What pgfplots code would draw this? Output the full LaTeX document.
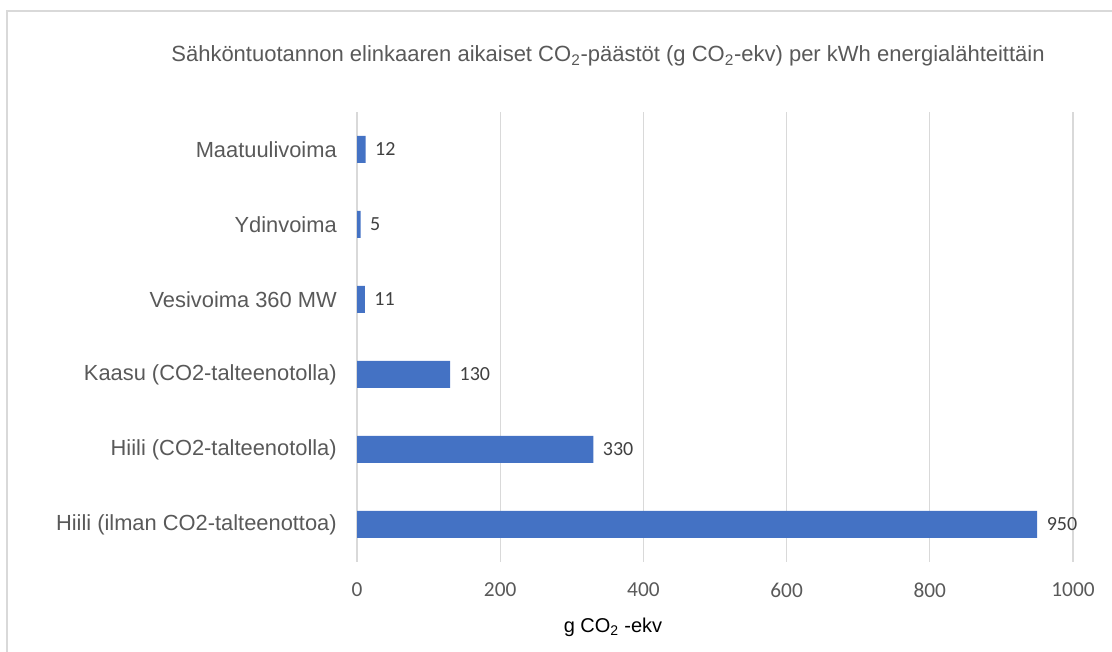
\documentclass[border=0pt]{standalone}
\usepackage{fontspec}
\setmainfont{Liberation Sans}
\newfontfamily\calib{Carlito}
\usepackage{pgfplots}
\pgfplotsset{compat=1.18}
\definecolor{barblue}{HTML}{4472C4}
\definecolor{gridgray}{HTML}{D9D9D9}
\definecolor{txtgray}{HTML}{595959}
\definecolor{lblgray}{HTML}{404040}
\begin{document}
\begin{tikzpicture}
\useasboundingbox (0,0) rectangle (834pt,489pt);
\draw[gridgray, line width=1.5pt] (5.25pt,0pt) -- (5.25pt,480.75pt) -- (834pt,480.75pt);
\node[text=txtgray, font=\fontsize{16.5}{19}\selectfont, inner sep=0pt] at (456pt,447pt)
  {Sähköntuotannon elinkaaren aikaiset CO\textsubscript{2}-päästöt (g CO\textsubscript{2}-ekv) per kWh energialähteittäin};
\node[text=black, font=\fontsize{15}{18}\selectfont, inner sep=0pt] at (459.75pt,18.75pt)
  {g CO\textsubscript{2} -ekv};
\begin{axis}[
  at={(267.75pt,67.5pt)}, anchor=south west,
  scale only axis, width=537pt, height=337.5pt,
  xbar, bar width=20.25pt,
  xmin=0, xmax=1000, ymin=-0.5, ymax=5.5,
  enlargelimits=false,
  xtick={0,200,400,600,800,1000},
  xticklabels={0,200,400,600,800,1000},
  ytick={0,1,2,3,4,5},
  yticklabels={Hiili (ilman CO2-talteenottoa),Hiili (CO2-talteenotolla),Kaasu (CO2-talteenotolla),Vesivoima 360 MW,Ydinvoima,Maatuulivoima},
  xmajorgrids, ymajorgrids=false,
  grid style={draw=gridgray, line width=0.9pt},
  axis line style={draw=none},
  major tick length=0pt, tick style={draw=none},
  xticklabel style={font=\calib\fontsize{16}{19}\selectfont, text=txtgray, anchor=center, yshift=-21pt},
  yticklabel style={font=\fontsize{16.4}{19}\selectfont, text=txtgray, anchor=east, inner sep=0pt, xshift=-15pt},
  /pgf/number format/assume math mode=true,
  nodes near coords,
  nodes near coords style={font=\calib\fontsize{15}{18}\selectfont, text=lblgray, anchor=west, inner sep=0pt, xshift=7pt},
]
\addplot[fill=barblue, draw=none] coordinates {(950,0) (330,1) (130,2) (11,3) (5,4) (12,5)};
\end{axis}
\end{tikzpicture}
\end{document}
